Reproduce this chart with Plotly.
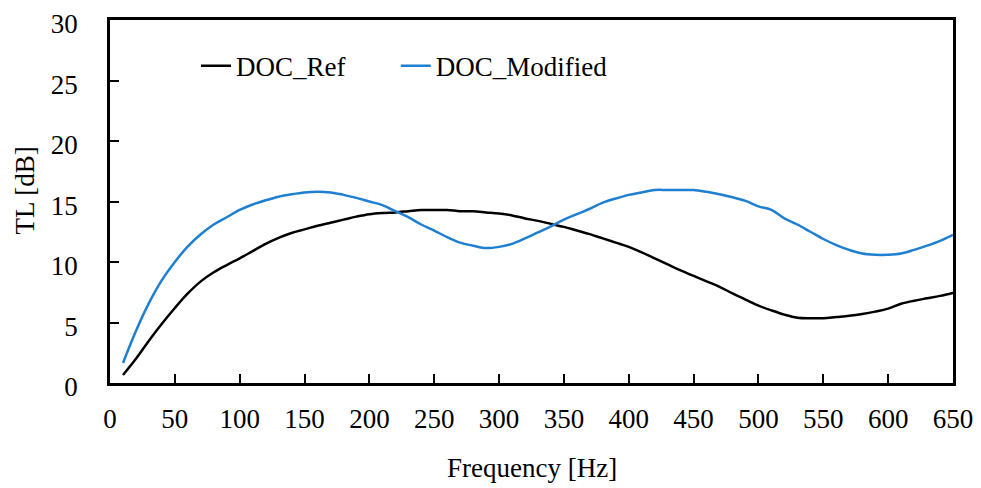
import plotly.graph_objects as go

freq = [10, 20, 30, 40, 50, 60, 70, 80, 90, 100, 110, 120, 130, 140, 150, 160,
        170, 180, 190, 200, 210, 220, 230, 240, 250, 260, 270, 280, 290, 300,
        310, 320, 330, 340, 350, 360, 370, 380, 390, 400, 410, 420, 430, 440,
        450, 460, 470, 480, 490, 500, 510, 520, 530, 540, 550, 560, 570, 580,
        590, 600, 610, 620, 630, 640, 650]

tl_ref = [0.66, 2.0, 3.5, 4.9, 6.2, 7.4, 8.4, 9.15, 9.75, 10.3, 10.9, 11.5, 12.0,
          12.4, 12.7, 13.0, 13.25, 13.5, 13.75, 13.95, 14.05, 14.1, 14.2, 14.3,
          14.3, 14.3, 14.2, 14.2, 14.1, 14.0, 13.85, 13.6, 13.4, 13.15, 12.9,
          12.6, 12.3, 11.95, 11.6, 11.25, 10.8, 10.3, 9.8, 9.3, 8.85, 8.4, 7.95,
          7.4, 6.9, 6.4, 6.0, 5.65, 5.4, 5.35, 5.35, 5.45, 5.55, 5.7, 5.9, 6.15,
          6.55, 6.8, 7.0, 7.2, 7.45]

tl_mod = [1.65, 4.3, 6.6, 8.5, 10.0, 11.3, 12.3, 13.1, 13.7, 14.3, 14.75, 15.1,
          15.4, 15.6, 15.75, 15.8, 15.75, 15.55, 15.3, 15.0, 14.7, 14.2, 13.7,
          13.1, 12.6, 12.05, 11.6, 11.35, 11.15, 11.25, 11.5, 11.95, 12.45,
          12.95, 13.5, 13.95, 14.4, 14.9, 15.25, 15.55, 15.75, 15.95, 15.95,
          15.95, 15.95, 15.8, 15.6, 15.35, 15.05, 14.6, 14.3, 13.6, 13.1, 12.5,
          11.9, 11.4, 11.0, 10.7, 10.6, 10.6, 10.7, 11.0, 11.35, 11.75, 12.25]

x_ticks = list(range(0, 651, 50))
y_ticks = list(range(0, 31, 5))

FONT = "Liberation Serif"

fig = go.Figure()
fig.add_trace(go.Scatter(x=freq, y=tl_ref, mode='lines', name='DOC_Ref', legend='legend',
                         line=dict(color='#000000', width=2.5, shape='spline')))
fig.add_trace(go.Scatter(x=freq, y=tl_mod, mode='lines', name='DOC_Modified', legend='legend2',
                         line=dict(color='#1f7fd0', width=2.5, shape='spline')))

fig.update_xaxes(range=[0, 650], tickvals=x_ticks, ticks='inside', ticklen=9,
                 tickwidth=1.5, tickcolor='black', showline=True, linecolor='black',
                 linewidth=2.5, mirror=True, showgrid=False, zeroline=False,
                 ticklabelstandoff=10, automargin=False, ticklabeloverflow='allow')
fig.update_yaxes(range=[0, 30], tickvals=y_ticks, ticks='inside', ticklen=9,
                 tickwidth=1.5, tickcolor='black', showline=True, linecolor='black',
                 linewidth=2.5, mirror=True, showgrid=False, zeroline=False,
                 ticklabelstandoff=24, ticklabelshift=4, automargin=False,
                 ticklabeloverflow='allow')

# page body adds an 8px offset, so the figure is shrunk by that much
fig.update_layout(
    width=973, height=480,
    margin=dict(l=102, r=28, t=12, b=105),
    plot_bgcolor='white', paper_bgcolor='white',
    font=dict(family=FONT, size=27, color='black'),
    showlegend=True,
    legend=dict(orientation='h', x=0.102, y=0.873, xanchor='left', yanchor='middle',
                bgcolor='rgba(0,0,0,0)', font=dict(size=27)),
    legend2=dict(orientation='h', x=0.339, y=0.873, xanchor='left', yanchor='middle',
                 bgcolor='rgba(0,0,0,0)', font=dict(size=27)),
    annotations=[
        dict(text='Frequency [Hz]', xref='paper', yref='paper', x=0.5, y=-0.235,
             xanchor='center', yanchor='middle', showarrow=False),
        dict(text='TL [dB]', xref='paper', yref='paper', x=-0.101, y=0.53,
             xanchor='center', yanchor='middle', textangle=-90, showarrow=False),
    ],
)

fig.write_html("out.html")
